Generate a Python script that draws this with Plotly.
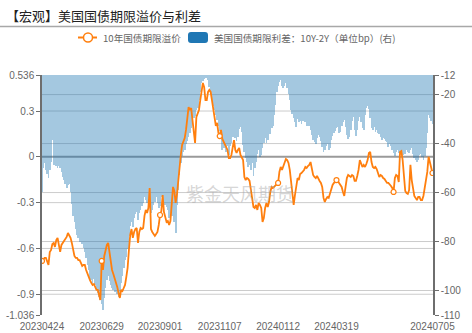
import pandas as pd
import plotly.graph_objects as go

# US Treasury market closures inside the sample window
market_holidays = [
    "2023-05-29", "2023-06-19", "2023-07-04", "2023-09-04", "2023-11-23", "2023-12-25",
    "2024-01-01", "2024-01-15", "2024-02-19", "2024-03-29", "2024-05-27", "2024-06-19",
    "2024-07-04",
]
trade_dates = pd.bdate_range("2023-04-24", "2024-07-05", freq="C",
                             holidays=market_holidays).strftime("%Y%m%d").tolist()

# 10-year term premium (left axis)
term_premium = [
    -0.682, -0.669, -0.662, -0.662, -0.689, -0.708, -0.623, -0.610, -0.571, -0.564,
    -0.590, -0.545, -0.531, -0.577, -0.623, -0.577, -0.564, -0.558, -0.545, -0.525,
    -0.499, -0.512, -0.531, -0.564, -0.597, -0.649, -0.662, -0.662, -0.676, -0.676,
    -0.695, -0.715, -0.708, -0.708, -0.741, -0.767, -0.787, -0.807, -0.826, -0.839,
    -0.833, -0.859, -0.872, -0.872, -0.898, -0.938, -0.682, -0.741, -0.649, -0.603,
    -0.577, -0.564, -0.623, -0.689, -0.741, -0.767, -0.793, -0.813, -0.852, -0.892,
    -0.924, -0.872, -0.879, -0.859, -0.839, -0.787, -0.728, -0.610, -0.512, -0.473,
    -0.531, -0.492, -0.473, -0.466, -0.564, -0.492, -0.466, -0.473, -0.466, -0.387,
    -0.348, -0.368, -0.335, -0.204, -0.473, -0.492, -0.505, -0.518, -0.505, -0.492,
    -0.446, -0.381, -0.355, -0.250, -0.361, -0.407, -0.427, -0.420, -0.446, -0.420,
    -0.283, -0.197, -0.224, -0.302, -0.250, -0.152, -0.086, 0.012, 0.078, 0.104,
    0.123, 0.176, 0.274, 0.326, 0.307, 0.320, 0.241, 0.143, 0.091, 0.261,
    0.287, 0.307, 0.372, 0.451, 0.484, 0.457, 0.372, 0.372, 0.425, 0.438,
    0.425, 0.372, 0.320, 0.281, 0.202, 0.222, 0.156, 0.136, 0.176, 0.117,
    0.097, 0.078, 0.064, 0.045, -0.008, -0.008, 0.012, 0.058, 0.110, 0.045,
    0.025, 0.045, 0.058, 0.012, -0.001, -0.021, -0.132, -0.152, -0.139, -0.145,
    -0.158, -0.211, -0.276, -0.328, -0.335, -0.315, -0.348, -0.302, -0.315, -0.335,
    -0.427, -0.401, -0.335, -0.302, -0.328, -0.296, -0.230, -0.197, -0.204, -0.197,
    -0.191, -0.178, -0.171, -0.099, -0.066, -0.086, -0.060, -0.034, -0.014, -0.021,
    -0.040, -0.086, -0.152, -0.224, -0.315, -0.250, -0.184, -0.139, -0.152, -0.112,
    -0.106, -0.099, -0.086, -0.066, -0.073, -0.060, -0.053, -0.034, -0.073, -0.119,
    -0.132, -0.139, -0.125, -0.145, -0.158, -0.171, -0.197, -0.269, -0.296, -0.276,
    -0.263, -0.269, -0.243, -0.204, -0.184, -0.171, -0.165, -0.152, -0.158, -0.171,
    -0.184, -0.197, -0.230, -0.256, -0.197, -0.139, -0.119, -0.125, -0.132, -0.119,
    -0.125, -0.158, -0.158, -0.125, -0.086, -0.021, -0.053, -0.066, -0.053, -0.066,
    -0.047, -0.021, 0.025, 0.032, -0.034, -0.066, -0.073, -0.066, -0.080, -0.112,
    -0.132, -0.119, -0.125, -0.139, -0.145, -0.158, -0.171, -0.171, -0.178, -0.191,
    -0.204, -0.230, -0.139, -0.119, -0.125, -0.165, 0.032, 0.038, -0.021, -0.158,
    -0.224, -0.237, -0.243, -0.217, -0.053, -0.152, -0.217, -0.256, -0.269, -0.283,
    -0.263, -0.263, -0.283, -0.283, -0.256, -0.204, -0.152, -0.099, 0.000, -0.040,
    -0.073, -0.106,
]

# 10Y-2Y spread in bp (right axis)
spread_bp = [
    -59.8, -50.0, -47.9, -50.8, -52.4, -54.1, -50.8, -47.5, -38.5, -48.7,
    -47.9, -49.2, -50.0, -49.2, -50.0, -51.6, -53.7, -54.9, -56.5, -58.1,
    -56.9, -56.5, -59.8, -64.7, -69.6, -72.0, -74.9, -77.3, -78.6, -80.2,
    -79.4, -81.0, -82.6, -84.3, -86.7, -89.6, -91.6, -94.5, -95.7, -96.9,
    -95.3, -97.8, -99.8, -101.0, -102.6, -103.9, -105.5, -108.0, -103.1, -99.0,
    -95.7, -94.1, -96.1, -97.8, -99.0, -99.8, -100.6, -99.8, -101.4, -102.6,
    -102.2, -96.9, -94.1, -90.8, -87.5, -86.3, -83.0, -77.7, -73.7, -72.0,
    -74.1, -70.4, -68.8, -67.9, -71.2, -68.4, -67.1, -65.5, -64.3, -61.8,
    -63.0, -64.3, -63.9, -64.7, -68.4, -67.1, -65.1, -63.9, -61.8, -64.3,
    -66.3, -65.5, -61.8, -64.3, -63.9, -65.1, -65.9, -67.1, -70.4, -70.8,
    -69.6, -68.8, -72.0, -76.5, -65.1, -59.0, -52.8, -47.9, -45.1, -43.4,
    -42.6, -40.2, -38.9, -37.3, -35.7, -33.6, -32.0, -29.6, -28.7, -26.3,
    -25.5, -22.2, -18.9, -15.3, -14.4, -13.6, -13.2, -13.2, -14.0, -16.9,
    -18.5, -21.4, -24.7, -26.3, -28.3, -30.4, -32.8, -34.9, -37.3, -42.6,
    -41.8, -41.4, -43.4, -41.0, -44.7, -41.0, -39.8, -37.3, -34.9, -37.7,
    -38.9, -37.3, -34.0, -33.2, -35.3, -40.6, -43.4, -45.9, -47.5, -49.6,
    -48.8, -50.8, -47.9, -53.2, -50.0, -47.5, -44.3, -42.6, -45.5, -44.7,
    -41.8, -39.8, -37.7, -39.8, -38.5, -35.3, -36.1, -33.6, -32.8, -28.3,
    -24.2, -18.9, -16.5, -14.9, -14.0, -16.5, -17.3, -16.5, -15.3, -17.3,
    -19.8, -22.2, -26.3, -27.9, -29.6, -31.2, -33.2, -30.0, -31.2, -30.8,
    -32.0, -30.8, -29.1, -31.2, -32.8, -32.0, -32.8, -34.5, -36.5, -38.5,
    -39.4, -40.2, -37.7, -36.5, -37.3, -38.9, -41.4, -43.4, -42.6, -41.0,
    -40.2, -42.6, -41.8, -38.5, -36.9, -35.7, -34.9, -33.6, -33.2, -35.7,
    -35.3, -32.8, -31.2, -30.4, -33.2, -36.5, -38.1, -37.3, -34.5, -30.8,
    -29.1, -34.5, -36.9, -34.5, -30.8, -29.1, -31.2, -33.6, -34.5, -28.3,
    -25.5, -24.7, -25.9, -29.6, -33.6, -34.5, -33.2, -35.3, -34.5, -35.7,
    -36.1, -37.3, -38.5, -37.7, -38.1, -38.9, -39.4, -41.4, -40.2, -41.0,
    -42.6, -43.8, -45.1, -43.4, -42.6, -43.8, -42.6, -43.8, -44.7, -43.4,
    -44.3, -42.6, -43.4, -43.8, -42.6, -41.8, -44.3, -45.9, -46.7, -47.5,
    -46.7, -44.7, -44.3, -45.5, -46.7, -45.1, -41.8, -35.7, -28.3, -29.6,
    -30.8, -32.0,
]

tick_labels = ["20230424", "20230629", "20230901", "20231107", "20240112", "20240319", "20240705"]
axis_tick_dates = tick_labels[:-1] + ["20240521"]
marker_dates = tick_labels[:-1] + ["20240521", "20240705"]

left_ticks = [0.536, 0.3, 0, -0.3, -0.6, -0.9, -1.036]
left_ticktext = ["0.536", "0.3", "0", "-0.3", "-0.6", "-0.9", "-1.036"]
right_ticks = [-12, -20, -40, -60, -80, -100, -110]

title_text = "【宏观】美国国债期限溢价与利差"
line_name = "10年国债期限溢价"
bar_name = "美国国债期限利差：10Y-2Y（单位bp）(右)"
watermark = "紫金天风期货"

assert len(trade_dates) == len(term_premium) == len(spread_bp)

# ---- page geometry (pixels) ----
W, H = 472, 333
L, R, T, B = 42, 39, 75, 18
PW, PH = W - L - R, H - T - B


def fx(px):
    return (px - L) / PW


def fy(py):
    return (H - B - py) / PH


ORANGE = "#ff7f0e"
BLUE = "#1f77b4"
GRID = "#cccccc"
AXIS = "#6e6e6e"
TEXT = "#666666"
CJK = "Noto Sans CJK SC, Noto Sans, sans-serif"
NUM = "Liberation Sans, Noto Sans CJK SC, sans-serif"

fig = go.Figure()

fig.add_trace(go.Bar(
    x=trade_dates, y=spread_bp, yaxis="y", name=bar_name,
    marker=dict(color=BLUE, line=dict(width=0)), opacity=0.4,
    showlegend=False, hoverinfo="skip",
))

fig.add_trace(go.Scatter(
    x=trade_dates, y=term_premium, yaxis="y2", name=line_name, mode="lines",
    line=dict(color=ORANGE, width=1.8), showlegend=False, hoverinfo="skip",
))

idx = {d: i for i, d in enumerate(trade_dates)}
fig.add_trace(go.Scatter(
    x=marker_dates, y=[term_premium[idx[d]] for d in marker_dates], yaxis="y2",
    mode="markers", marker=dict(size=5, color="white", line=dict(color=ORANGE, width=1.2)),
    showlegend=False, hoverinfo="skip",
))

shapes = []
# horizontal grid lines for both value axes
for v in right_ticks[1:-1]:
    shapes.append(dict(type="line", xref="paper", x0=0, x1=1, yref="y", y0=v, y1=v,
                       line=dict(color=GRID, width=1), layer="below"))
for v in left_ticks[1:-1]:
    if v == 0:
        continue
    shapes.append(dict(type="line", xref="paper", x0=0, x1=1, yref="y2", y0=v, y1=v,
                       line=dict(color=GRID, width=1), layer="below"))
# category axis line sits on zero
shapes.append(dict(type="line", xref="paper", x0=0, x1=1, yref="y2", y0=0, y1=0,
                   line=dict(color="#9a9a9a", width=2), layer="below"))
for d in axis_tick_dates:
    shapes.append(dict(type="line", xref="x", x0=d, x1=d, yref="y2", ysizemode="pixel",
                       yanchor=0, y0=-1, y1=-4, line=dict(color=AXIS, width=1)))

# rule under the title
shapes.append(dict(type="line", xref="paper", yref="paper", x0=fx(0), x1=fx(W),
                   y0=fy(26.5), y1=fy(26.5), line=dict(color="#a8a8a8", width=1.5)))

# legend glyphs
LY = 37.5
shapes.append(dict(type="line", xref="paper", yref="paper", x0=fx(78), x1=fx(97),
                   y0=fy(LY), y1=fy(LY), line=dict(color=ORANGE, width=2)))
shapes.append(dict(type="circle", xref="paper", yref="paper", x0=fx(83.5), x1=fx(92.5),
                   y0=fy(LY + 4.5), y1=fy(LY - 4.5), fillcolor="white",
                   line=dict(color=ORANGE, width=1.5)))


def rounded_rect(x0, y0, x1, y1, r):
    pts = [
        ("M", [(x0 + r, y0)]), ("L", [(x1 - r, y0)]), ("Q", [(x1, y0), (x1, y0 + r)]),
        ("L", [(x1, y1 - r)]), ("Q", [(x1, y1), (x1 - r, y1)]), ("L", [(x0 + r, y1)]),
        ("Q", [(x0, y1), (x0, y1 - r)]), ("L", [(x0, y0 + r)]), ("Q", [(x0, y0), (x0 + r, y0)]),
    ]
    out = []
    for cmd, coords in pts:
        out.append(cmd + " ".join(f"{fx(a):.5f},{fy(b):.5f}" for a, b in coords))
    return " ".join(out) + " Z"


shapes.append(dict(type="path", xref="paper", yref="paper",
                   path=rounded_rect(188, LY - 5.5, 208, LY + 5.5, 3),
                   fillcolor=BLUE, line=dict(width=0)))

annotations = [
    dict(text=title_text, xref="paper", yref="paper", x=fx(4), y=fy(15.5),
         xanchor="left", yanchor="middle", showarrow=False,
         font=dict(family=CJK, size=13, color="#222222")),
    dict(text=line_name, xref="paper", yref="paper", x=fx(101), y=fy(LY),
         xanchor="left", yanchor="middle", showarrow=False,
         font=dict(family=CJK, size=9.6, color=TEXT)),
    dict(text=bar_name, xref="paper", yref="paper", x=fx(212), y=fy(LY),
         xanchor="left", yanchor="middle", showarrow=False,
         font=dict(family=CJK, size=9.6, color=TEXT)),
    dict(text=watermark, xref="paper", yref="paper", x=fx(240), y=fy(193),
         xanchor="center", yanchor="middle", showarrow=False,
         font=dict(family=CJK, size=18, color="rgba(165,165,165,0.45)")),
]

fig.update_layout(
    width=W, height=H, margin=dict(l=L, r=R, t=T, b=B, pad=0),
    paper_bgcolor="white", plot_bgcolor="white",
    bargap=0.4, showlegend=False,
    font=dict(family=NUM, size=10, color=TEXT),
    xaxis=dict(type="category", range=[0, len(trade_dates) - 0.6], automargin=False,
               tickmode="array", tickvals=tick_labels, ticktext=tick_labels,
               showgrid=False, showline=False, zeroline=False, ticks="",
               ticklabelstandoff=4,
               tickfont=dict(family=NUM, size=10, color=TEXT)),
    yaxis=dict(side="right", range=[-110, -12], tickmode="array", automargin=False,
               tickvals=right_ticks, ticktext=[str(v) for v in right_ticks],
               showgrid=False, zeroline=False, showline=True, linecolor=AXIS, linewidth=1.5,
               ticks="outside", ticklen=4, tickcolor=AXIS, tickwidth=1,
               tickfont=dict(family=NUM, size=10, color=TEXT)),
    yaxis2=dict(side="left", overlaying="y", range=[-1.036, 0.536], tickmode="array",
                automargin=False, tickvals=left_ticks, ticktext=left_ticktext,
                showgrid=False, zeroline=False, showline=True, linecolor=AXIS, linewidth=1.5,
                ticks="outside", ticklen=4, tickcolor=AXIS, tickwidth=1,
                tickfont=dict(family=NUM, size=10, color=TEXT)),
    shapes=shapes, annotations=annotations,
)

fig.write_html("out.html", config={"displayModeBar": False})
